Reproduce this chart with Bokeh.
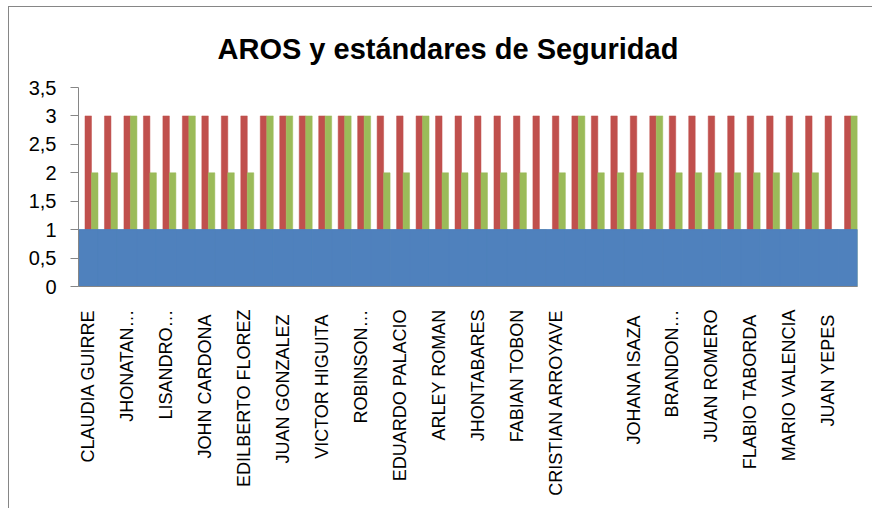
from bokeh.plotting import figure
from bokeh.models import FixedTicker, Range1d, ColumnDataSource
from bokeh.embed import file_html
from bokeh.resources import INLINE
import math

# ---- data ----
shown_labels = ["CLAUDIA GUIRRE", "JHONATAN…", "LISANDRO…", "JOHN  CARDONA",
                "EDILBERTO FLOREZ", "JUAN  GONZALEZ", "VICTOR  HIGUITA", "ROBINSON…",
                "EDUARDO PALACIO", "ARLEY ROMAN", "JHONTABARES", "FABIAN TOBON",
                "CRISTIAN ARROYAVE", "", "JOHANA  ISAZA", "BRANDON…",
                "JUAN ROMERO", "FLABIO  TABORDA", "MARIO VALENCIA", "JUAN  YEPES"]
blue_vals = [1] * 40
red_vals = [3] * 40
green_vals = [2, 2, 3, 2, 2, 3, 2, 2, 2, 3, 3, 3, 3, 3, 3, 2, 2, 3, 2, 2,
              2, 2, 2, 1, 2, 3, 2, 2, 2, 3, 2, 2, 2, 2, 2, 2, 2, 2, 1, 3]
y_ticks = [0, 0.5, 1, 1.5, 2, 2.5, 3, 3.5]
y_tick_labels = ["0", "0,5", "1", "1,5", "2", "2,5", "3", "3,5"]

BLUE, RED, GREEN = "#4F81BD", "#C0504D", "#9BBB59"
n = len(red_vals)
idx = list(range(n))
src = ColumnDataSource(dict(
    x=idx,
    xg=[i + 1 / 3 for i in idx],
    blue=blue_vals, red=red_vals, green=green_vals,
))

p = figure(frame_width=779, frame_height=199, output_backend="svg", toolbar_location=None,
           x_range=Range1d(-0.5, n - 0.5), y_range=Range1d(0, 3.5),
           min_border_left=69, min_border_right=15, min_border_top=80,
           min_border_bottom=222)
p.styles = {"margin-left": "8px", "margin-top": "6px",
            "border-left": "1px solid #868686", "border-top": "1px solid #868686"}

p.vbar(x="x", top="red", width=1 / 3, bottom=0, source=src,
       fill_color=RED, line_color=RED, line_width=0.5)
p.vbar(x="xg", top="green", width=1 / 3, bottom=0, source=src,
       fill_color=GREEN, line_color=GREEN, line_width=0.5)
p.vbar(x="x", top="blue", width=1.0, bottom=0, source=src,
       fill_color=BLUE, line_color=BLUE, line_width=1)

p.title.text = "AROS y estándares de Seguridad"
p.title.text_font = "Liberation Sans"
p.title.text_font_size = "29px"
p.title.text_font_style = "bold"
p.title.text_color = "#000000"
p.title.align = "left"
p.title.offset = 139
p.title.standoff = 46

p.outline_line_color = None
p.xgrid.grid_line_color = None
p.ygrid.grid_line_color = None

p.yaxis.ticker = FixedTicker(ticks=y_ticks)
p.yaxis.major_label_overrides = {t: l for t, l in zip(y_ticks, y_tick_labels)}
p.yaxis.minor_tick_line_color = None
p.yaxis.axis_line_color = "#868686"
p.yaxis.major_tick_line_color = "#868686"
p.yaxis.major_tick_out = 8
p.yaxis.major_tick_in = 0
p.yaxis.major_label_text_font = "Liberation Sans"
p.yaxis.major_label_text_font_size = "20px"
p.yaxis.major_label_text_color = "#000000"
p.yaxis.major_label_standoff = 14

x_ticks = idx[::2]
p.xaxis.ticker = FixedTicker(ticks=x_ticks)
p.xaxis.major_label_overrides = {t: l for t, l in zip(x_ticks, shown_labels)}
p.xaxis.major_label_orientation = math.pi / 2
p.xaxis.minor_tick_line_color = None
p.xaxis.major_tick_line_color = None
p.xaxis.axis_line_color = "#868686"
p.xaxis.major_label_text_font = "Liberation Sans"
p.xaxis.major_label_text_font_size = "18px"
p.xaxis.major_label_text_color = "#000000"
p.xaxis.major_label_standoff = 17

open("out.html", "w").write(file_html(p, INLINE))
